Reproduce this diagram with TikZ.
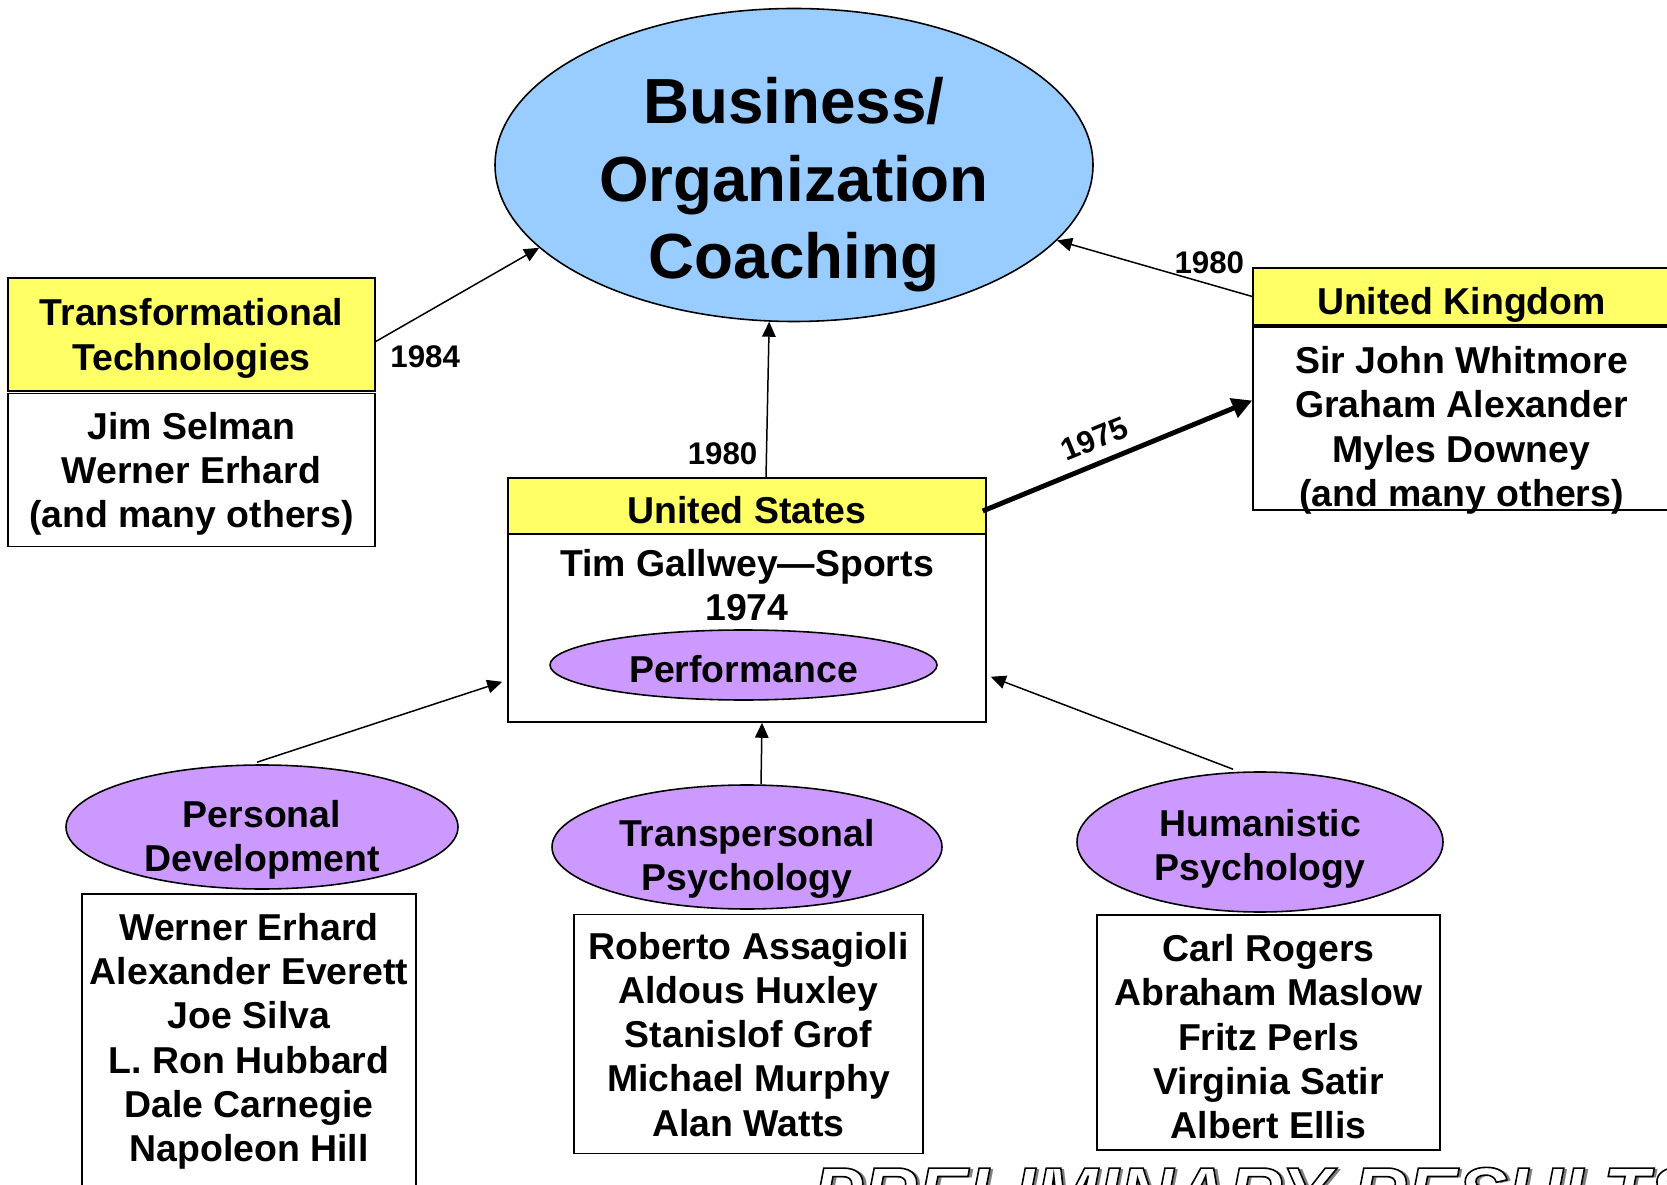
\documentclass[tikz,border=0pt]{standalone}
\usepackage{fontspec}
\setmainfont{Liberation Sans}
\usetikzlibrary{shapes.geometric,arrows.meta,calc}
\definecolor{coachblue}{HTML}{99CCFF}
\definecolor{headyellow}{HTML}{FFFF66}
\definecolor{fieldpurple}{HTML}{CC99FF}
\tikzset{
  every node/.style={font=\bfseries\fontsize{21.3}{25.2}\selectfont, align=center, text depth=0pt},
  header/.style={draw, line width=0.9pt, fill=headyellow, rectangle, inner sep=0pt},
  namebox/.style={draw, line width=0.9pt, fill=white, rectangle, inner sep=0pt},
  field/.style={draw, line width=0.9pt, fill=fieldpurple, ellipse, inner sep=0pt},
  year/.style={font=\bfseries\fontsize{17.8}{20}\selectfont},
  arr/.style={-{Triangle[length=0.3cm,width=0.27cm]}, line width=0.85pt},
}
\begin{document}
\begin{tikzpicture}[x=0.02cm,y=-0.02cm]
\useasboundingbox (0,0) rectangle (1667,1185);
\clip (0,0) rectangle (1667,1185);
\node[field, fill=coachblue, minimum width=598*0.02cm, minimum height=313*0.02cm] (boss) at (794,165) {};
\node[font=\bfseries\fontsize{36.3}{44}\selectfont] (bosstext) at (794,178) {Business/\\Organization\\Coaching};
\node[header, minimum width=367*0.02cm, minimum height=113*0.02cm] (tthead) at (191.5,334.5) {Transformational\\Technologies};
\node[namebox, minimum width=367*0.02cm, minimum height=153*0.02cm] (ttnames) at (191.5,470) {Jim Selman\\Werner Erhard\\(and many others)};
\node[namebox, minimum width=417*0.02cm, minimum height=185*0.02cm] (ukbody) at (1461.5,417.5) {};
\node (uknames) at (1461.5,426.5) {Sir John Whitmore\\Graham Alexander\\Myles Downey\\(and many others)};
\node[header, minimum width=417*0.02cm, minimum height=57*0.02cm] (ukhead) at (1461.5,296.5) {};
\node (uktext) at (1461.5,301) {United Kingdom};
\draw[line width=2pt] (ukhead.south west) -- (ukhead.south east);
\node[namebox, minimum width=478*0.02cm, minimum height=188*0.02cm] (usbody) at (747,628) {};
\node[header, minimum width=478*0.02cm, minimum height=56*0.02cm] (ushead) at (747,506) {};
\node (ustext) at (747,510) {United States};
\node (gallwey) at (747,585) {Tim Gallwey—Sports\\1974};
\node[field, minimum width=387*0.02cm, minimum height=70*0.02cm] (perf) at (743.5,665) {};
\node (perftext) at (743.5,669) {Performance};
\node[field, minimum width=392*0.02cm, minimum height=124*0.02cm] (pd) at (262,827) {};
\node (pdtext) at (262,836) {Personal\\Development};
\node[namebox, anchor=north, minimum width=334*0.02cm, minimum height=330*0.02cm] (pdbox) at (249,893) {};
\node (pdnames) at (249,1037.5) {Werner Erhard\\Alexander Everett\\Joe Silva\\L. Ron Hubbard\\Dale Carnegie\\Napoleon Hill};
\node[field, minimum width=390*0.02cm, minimum height=124*0.02cm] (tp) at (747,847) {};
\node (tptext) at (747,855) {Transpersonal\\Psychology};
\node[namebox, minimum width=349*0.02cm, minimum height=239*0.02cm] (tpnames) at (748.5,1034) {Roberto Assagioli\\Aldous Huxley\\Stanislof Grof\\Michael Murphy\\Alan Watts};
\node[field, minimum width=366*0.02cm, minimum height=140*0.02cm] (hp) at (1260,842) {};
\node (hptext) at (1260,845) {Humanistic\\Psychology};
\node[namebox, minimum width=343*0.02cm, minimum height=235*0.02cm] (hpbox) at (1268.5,1032.5) {};
\node (hpnames) at (1268.5,1036.5) {Carl Rogers\\Abraham Maslow\\Fritz Perls\\Virginia Satir\\Albert Ellis};
\draw[arr] ($(tthead.east)+(0,7)$) -- node[at start, below right, year, xshift=0.16cm, yshift=0.05cm] {1984} (boss.198);
\draw[arr] ($(ushead.north)+(19,0)$) -- node[pos=0.15, left, year, xshift=-0.05cm] {1980} (boss.261);
\draw[arr] (ukhead.west) -- node[pos=0.22, above, year, yshift=0.08cm] {1980} (boss.344);
\draw[arr, line width=2.8pt, -{Triangle[length=0.4cm,width=0.4cm]}] ($(ushead.east)+(-4,5)$) -- node[pos=0.45, above=3pt, sloped, year] {1975} ($(ukbody.west)+(0,-17)$);
\draw[arr] ($(pd.north)+(-5,-2)$) -- ($(usbody.south west)+(-5,-41)$);
\draw[arr] ($(tp.north)+(14,0)$) -- ($(usbody.south)+(15,0)$);
\draw[arr] ($(hp.north)+(-27,-2)$) -- ($(usbody.south east)+(4,-46)$);
\node[anchor=north west, inner sep=0pt, text=gray, font=\bfseries\itshape\fontsize{43}{50}\selectfont] (prelimshade) at (816,1168) {PRELIMINARY RESULTS};
\node[anchor=north west, inner sep=0pt, font=\bfseries\itshape\fontsize{43}{50}\selectfont] (prelim) at (812,1167) {\color{white}\special{pdf:literal direct 0 0 0 RG 2 Tr 0.9 w}PRELIMINARY RESULTS\special{pdf:literal direct 0 Tr}};
\end{tikzpicture}
\end{document}
